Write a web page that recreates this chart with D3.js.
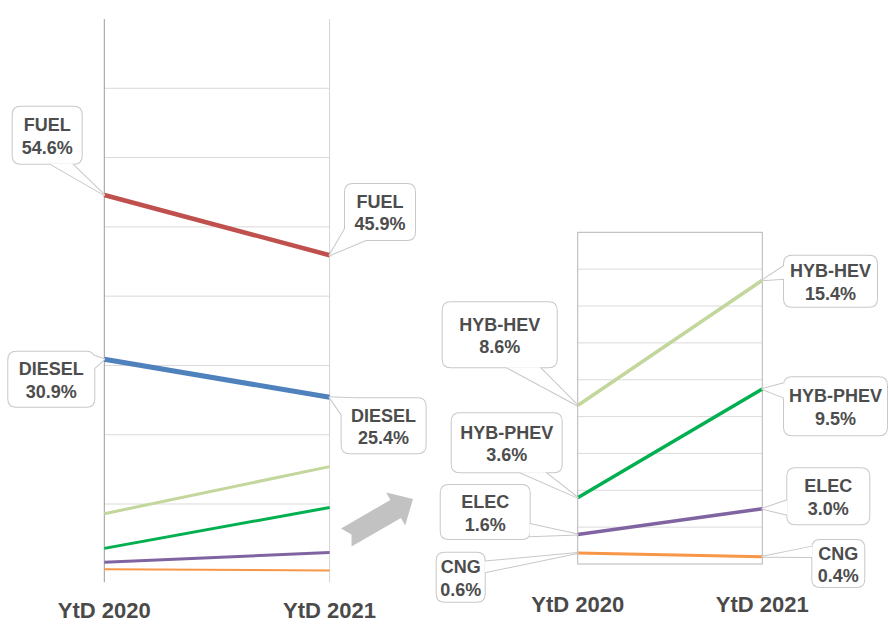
<!DOCTYPE html>
<html>
<head>
<meta charset="utf-8">
<script src="https://cdn.jsdelivr.net/npm/d3@7"></script>
<style>
  body { margin: 0; background: #fff; }
  text { font-family: "Liberation Sans", Arial, sans-serif; font-weight: bold; }
</style>
</head>
<body>
<svg width="888" height="624"></svg>
<script>
// data
const years = ['YtD 2020', 'YtD 2021'];
const fuel = [54.6, 45.9];
const diesel = [30.9, 25.4];
const hybHev = [8.6, 15.4];
const hybPhev = [3.6, 9.5];
const elec = [1.6, 3.0];
const cng = [0.6, 0.4];
const leftTicks = [10, 20, 30, 40, 50, 60, 70];
const rightTicks = [2, 4, 6, 8, 10, 12, 14, 16];

const series = [
  { name: 'FUEL', values: fuel, color: '#C0504D', wL: 4.5, wR: 3.5 },
  { name: 'DIESEL', values: diesel, color: '#4F81BD', wL: 5, wR: 3.5 },
  { name: 'HYB-HEV', values: hybHev, color: '#C3D69B', wL: 3, wR: 3.5 },
  { name: 'HYB-PHEV', values: hybPhev, color: '#00B050', wL: 3, wR: 3.5 },
  { name: 'ELEC', values: elec, color: '#8064A2', wL: 3, wR: 3.5 },
  { name: 'CNG', values: cng, color: '#F79646', wL: 2, wR: 3 }
];

// callout layout: series, year index, box offset from point, size, tail base (box fractions)
const leftCallouts = [
  { name: 'FUEL', i: 0, dx: -91.6, dy: -88.3, w: 69, h: 57, tail: [[0.54, 1], [0.86, 1]] },
  { name: 'FUEL', i: 1, dx: 15.4, dy: -71.3, w: 70, h: 56, tail: [[0, 0.8], [0.3, 1]] },
  { name: 'DIESEL', i: 0, dx: -96, dy: -7.5, w: 86, h: 55, tail: [[0.86, 0], [1, 0.3]] },
  { name: 'DIESEL', i: 1, dx: 12, dy: 1, w: 84, h: 55, tail: [[0, 0.3], [0.15, 0]] }
];
const rightCallouts = [
  { name: 'HYB-HEV', i: 0, dx: -135, dy: -103.2, w: 114, h: 65, tail: [[0.56, 1], [0.85, 1]] },
  { name: 'HYB-HEV', i: 1, dx: 21.7, dy: -24.5, w: 93, h: 51, tail: [[0, 0.2], [0, 0.45]] },
  { name: 'HYB-PHEV', i: 1, dx: 21.7, dy: -11.6, w: 103, h: 58, tail: [[0, 0.1], [0, 0.35]] },
  { name: 'HYB-PHEV', i: 0, dx: -126, dy: -84.4, w: 110, h: 59, tail: [[0.62, 1], [0.85, 1]] },
  { name: 'ELEC', i: 0, dx: -137, dy: -49.5, w: 89, h: 54, tail: [[1, 0.72], [1, 0.95]] },
  { name: 'ELEC', i: 1, dx: 25, dy: -40.4, w: 82, h: 56, tail: [[0, 0.57], [0, 0.83]] },
  { name: 'CNG', i: 0, dx: -141, dy: -0.2, w: 48, h: 49, tail: [[1, 0.18], [1, 0.4]] },
  { name: 'CNG', i: 1, dx: 50, dy: -16.6, w: 52, h: 47, tail: [[0, 0.14], [0, 0.36]] }
];

const svg = d3.select('svg');

const xL = d3.scalePoint().domain(years).range([104.3, 329.6]);
const yL = d3.scaleLinear().domain([0, 80]).range([573.3, 19]);
const xR = d3.scalePoint().domain(years).range([577.7, 762.3]);
const yR = d3.scaleLinear().domain([0, 18]).range([564, 232.3]);

// left panel grid
const gL = svg.append('g');
gL.selectAll('line.grid')
  .data(leftTicks)
  .join('line')
    .attr('x1', xL(years[0]))
    .attr('x2', xL(years[1]))
    .attr('y1', d => yL(d))
    .attr('y2', d => yL(d))
    .attr('stroke', '#d9d9d9')
    .attr('stroke-width', 1);
gL.append('line')
  .attr('x1', xL(years[0])).attr('x2', xL(years[0]))
  .attr('y1', yL(80)).attr('y2', yL(0) + 9)
  .attr('stroke', '#9a9a9a');
gL.append('line')
  .attr('x1', xL(years[1])).attr('x2', xL(years[1]))
  .attr('y1', yL(80)).attr('y2', yL(0) + 9)
  .attr('stroke', '#d4d4d4');

// right panel grid
const gR = svg.append('g');
gR.selectAll('line.grid')
  .data(rightTicks)
  .join('line')
    .attr('x1', xR(years[0]))
    .attr('x2', xR(years[1]))
    .attr('y1', d => yR(d))
    .attr('y2', d => yR(d))
    .attr('stroke', '#dcdcdc');
gR.append('rect')
  .attr('x', xR(years[0]))
  .attr('y', yR(18))
  .attr('width', xR(years[1]) - xR(years[0]))
  .attr('height', yR(0) - yR(18))
  .attr('fill', 'none')
  .attr('stroke', '#b5b5b5');

// lines
const lineL = d3.line().x((d, i) => xL(years[i])).y(d => yL(d));
const lineR = d3.line().x((d, i) => xR(years[i])).y(d => yR(d));

gL.selectAll('path.series')
  .data(series.slice().reverse())
  .join('path')
    .attr('d', d => lineL(d.values))
    .attr('fill', 'none')
    .attr('stroke', d => d.color)
    .attr('stroke-width', d => d.wL);

gR.selectAll('path.series')
  .data(series.slice(2).reverse())
  .join('path')
    .attr('d', d => lineR(d.values))
    .attr('fill', 'none')
    .attr('stroke', d => d.color)
    .attr('stroke-width', d => d.wR);

// callouts
function roundRect(x, y, w, h, r) {
  return `M${x + r},${y}H${x + w - r}Q${x + w},${y} ${x + w},${y + r}` +
    `V${y + h - r}Q${x + w},${y + h} ${x + w - r},${y + h}` +
    `H${x + r}Q${x},${y + h} ${x},${y + h - r}` +
    `V${y + r}Q${x},${y} ${x + r},${y}Z`;
}

function drawCallouts(g, list, x, y) {
  list.forEach(c => {
    const s = series.find(d => d.name === c.name);
    const v = s.values[c.i];
    const px = x(years[c.i]);
    const py = y(v);
    const bx = px + c.dx;
    const by = py + c.dy;
    const rect = roundRect(bx, by, c.w, c.h, 8);
    const tail = `M${px},${py}` +
      `L${bx + c.tail[0][0] * c.w},${by + c.tail[0][1] * c.h}` +
      `L${bx + c.tail[1][0] * c.w},${by + c.tail[1][1] * c.h}Z`;
    const cg = g.append('g');
    cg.append('path').attr('d', rect + tail)
      .attr('fill', 'none').attr('stroke', '#c8c8c8').attr('stroke-width', 2)
      .attr('stroke-linejoin', 'round');
    cg.append('path').attr('d', rect).attr('fill', '#fff');
    cg.append('path').attr('d', tail).attr('fill', '#fff');
    const cx = bx + c.w / 2;
    const cy = by + c.h / 2;
    cg.append('text')
      .attr('x', cx).attr('y', cy - 4)
      .attr('text-anchor', 'middle')
      .attr('font-size', 18)
      .attr('fill', '#4d4d4d')
      .text(c.name);
    cg.append('text')
      .attr('x', cx).attr('y', cy + 18.5)
      .attr('text-anchor', 'middle')
      .attr('font-size', 18)
      .attr('fill', '#4d4d4d')
      .text(v.toFixed(1) + '%');
  });
}

drawCallouts(svg.append('g'), leftCallouts, xL, yL);
drawCallouts(svg.append('g'), rightCallouts, xR, yR);

// x labels
svg.append('g').selectAll('text')
  .data(years)
  .join('text')
    .attr('x', d => xL(d))
    .attr('y', 618)
    .attr('text-anchor', 'middle')
    .attr('font-size', 22)
    .attr('fill', '#4a4a4a')
    .text(d => d);

svg.append('g').selectAll('text')
  .data(years)
  .join('text')
    .attr('x', d => xR(d))
    .attr('y', 612)
    .attr('text-anchor', 'middle')
    .attr('font-size', 22)
    .attr('fill', '#4a4a4a')
    .text(d => d);

// gray arrow linking the panels
svg.append('path')
  .attr('d', 'M0,0L-20,-19L-20,-10.5L-77,-10.5L-71,0L-77,10.5L-20,10.5L-20,19Z')
  .attr('transform', 'translate(413,499) rotate(-30)')
  .attr('fill', '#c2c2c2');
</script>
</body>
</html>
